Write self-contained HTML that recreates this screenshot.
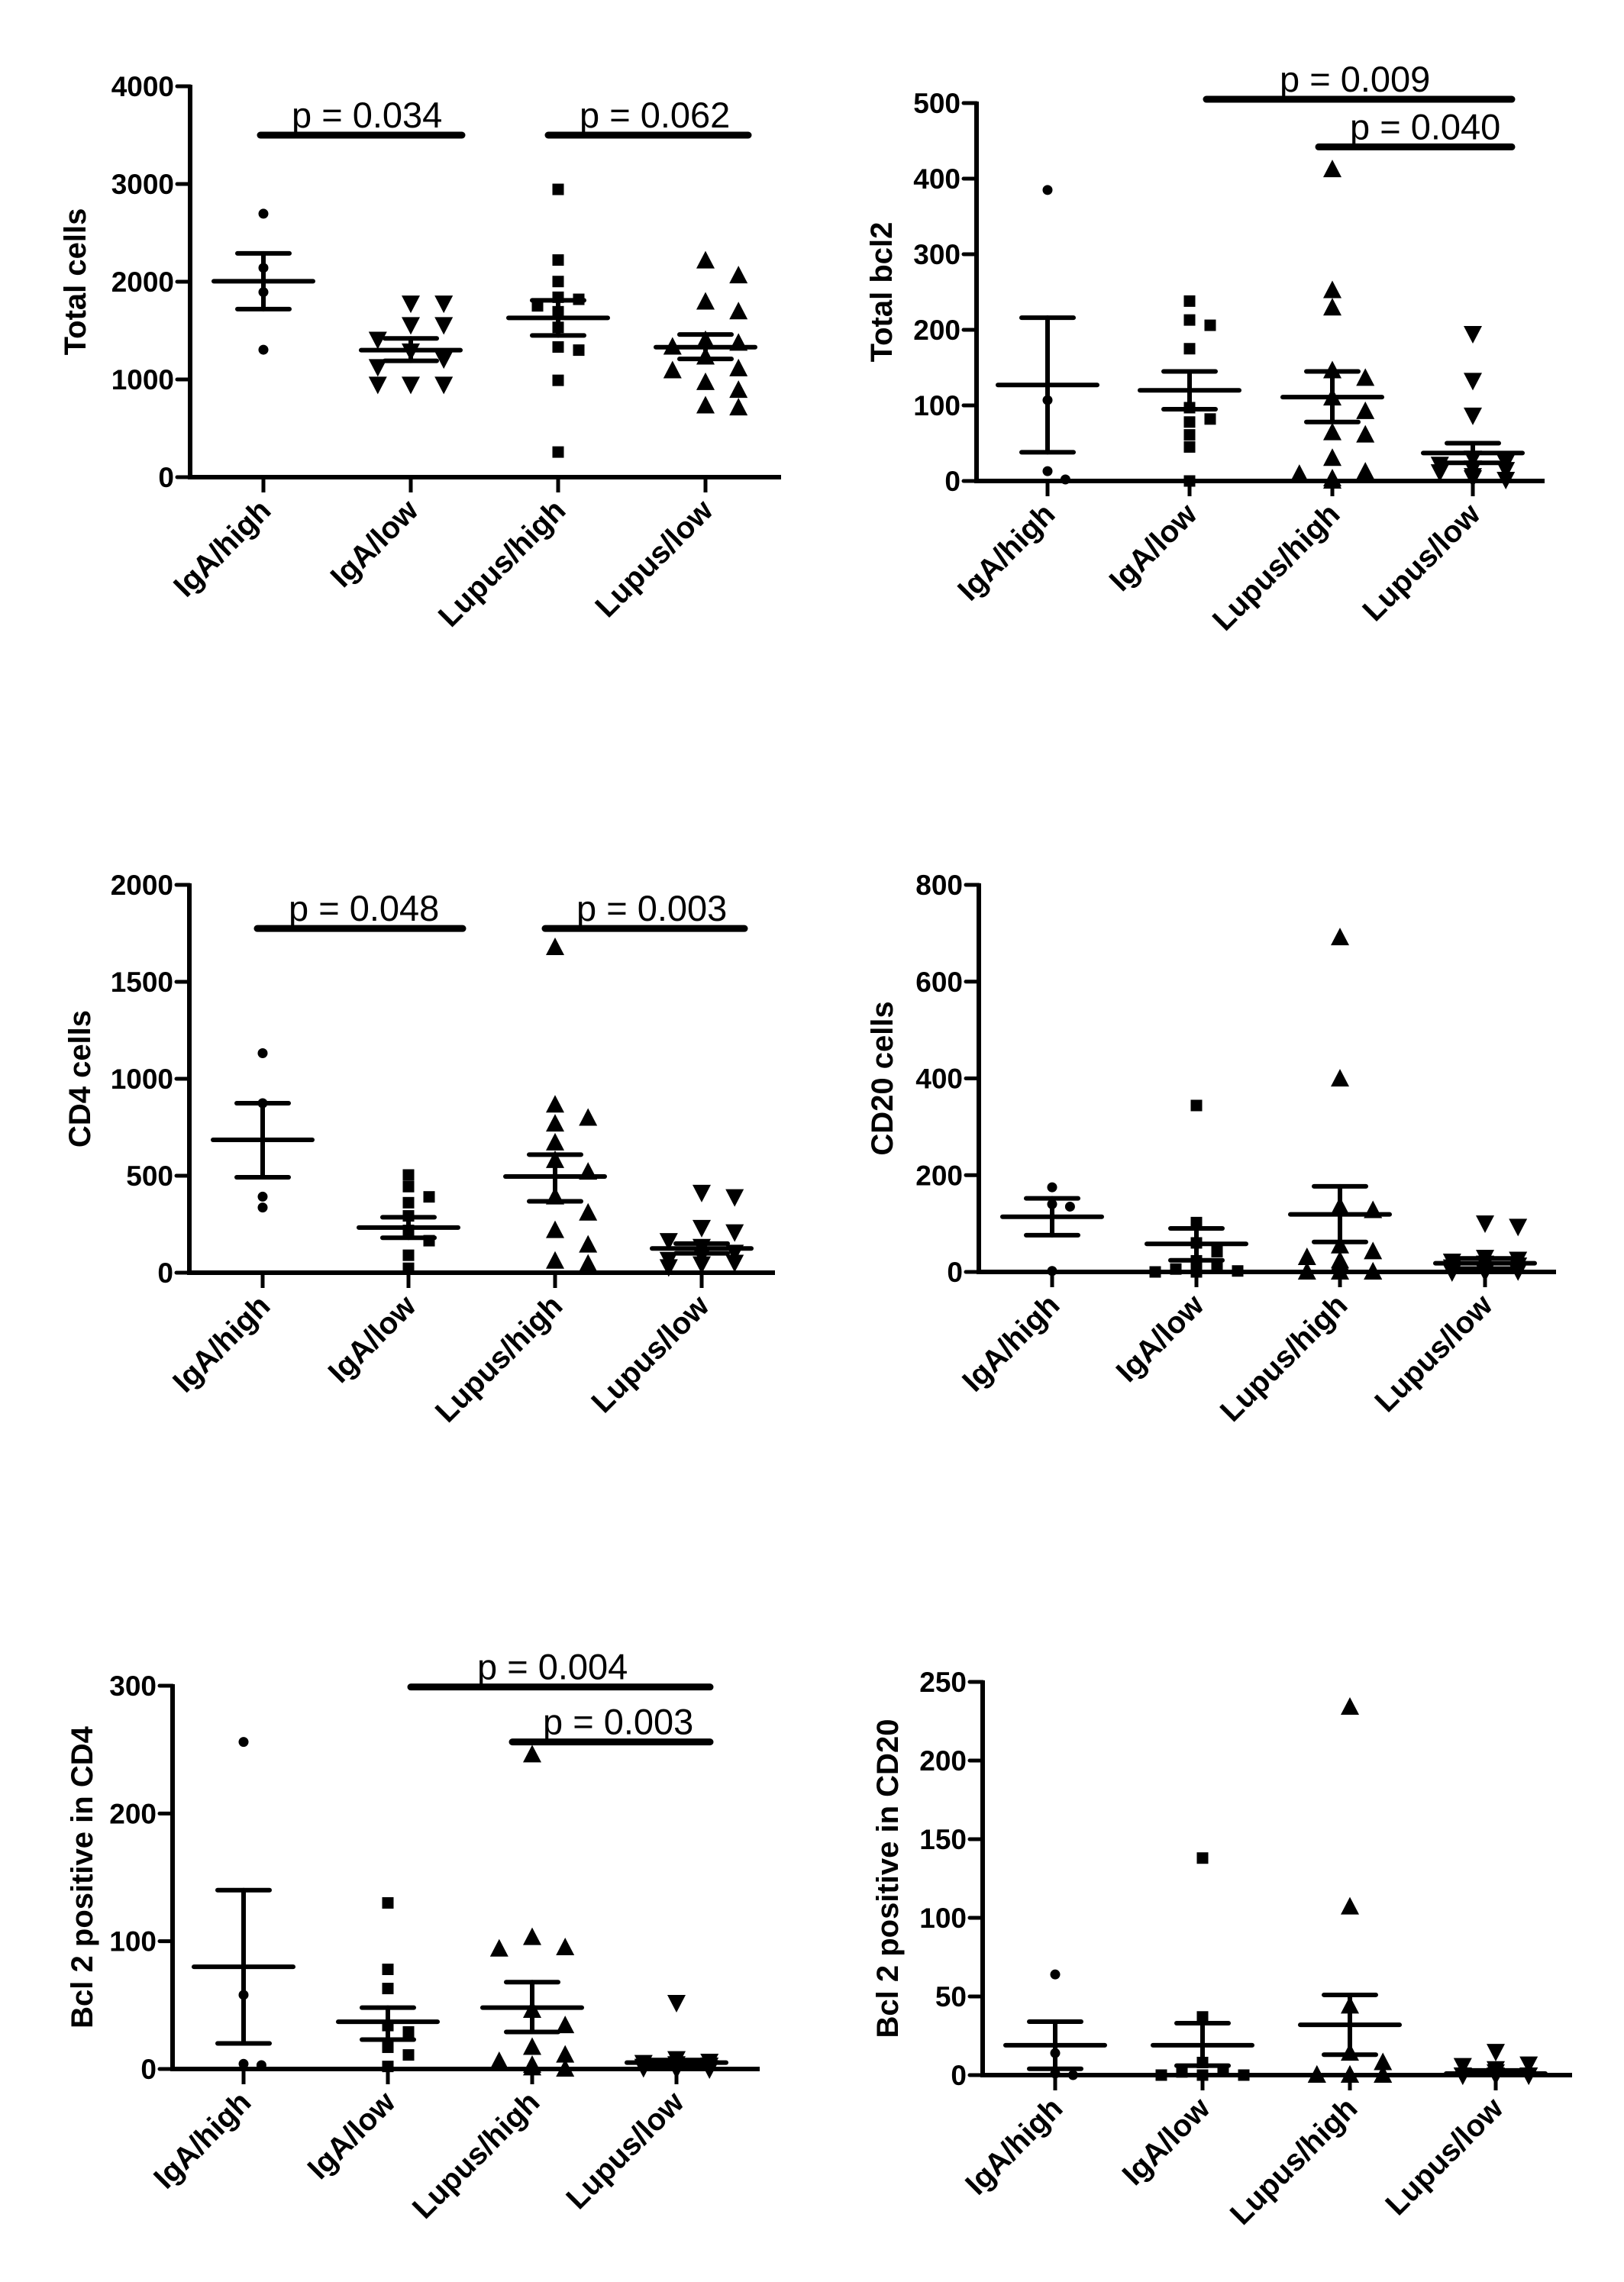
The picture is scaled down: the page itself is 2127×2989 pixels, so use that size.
<!DOCTYPE html>
<html><head><meta charset="utf-8"><style>
html,body{margin:0;padding:0;background:#fff;}
svg{display:block;}
text{font-family:"Liberation Sans",Arial,sans-serif;fill:#000;}
</style></head><body>
<svg id="fig" xmlns="http://www.w3.org/2000/svg" width="2127" height="2989" viewBox="0 0 2127 2989"></svg>
<script>
const categories = ["IgA/high","IgA/low","Lupus/high","Lupus/low"];

// Total cells
const totalCellsValues = [[2696,2142,1894,1304],[1780,1780,1560,1560,1410,1290,1210,1130,950,950,950],[2945,2222,2002,1841,1820,1753,1693,1533,1332,1300,991,257],[2214,2062,1793,1693,1400,1372,1332,1230,1110,1090,970,890,730,710]];
const totalCellsMean = [2005,1300,1630,1330];
const totalCellsSemLo = [1720,1190,1450,1210];
const totalCellsSemHi = [2290,1420,1810,1460];
const totalCellsTicks = [0,1000,2000,3000,4000];
// Total bcl2
const bcl2Values = [[385,107,13,2],[238,213,206,175,97,82,78,61,45,0],[412,252,229,146,136,110,92,64,61,30,12,9,3,0],[195,133,87,30,25,22,17,15,12,7,4,2]];
const bcl2Mean = [127,120,111,37];
const bcl2SemLo = [38,95,78,24];
const bcl2SemHi = [216,145,145,50];
const bcl2Ticks = [0,100,200,300,400,500];
// CD4 cells
const cd4Values = [[1132,874,392,336],[504,444,391,361,293,218,165,90,23],[1677,865,797,767,670,579,519,391,308,218,143,60,45],[414,391,233,210,165,135,105,90,68,53,45,30]];
const cd4Mean = [685,233,496,125];
const cd4SemLo = [492,180,368,100];
const cd4SemHi = [874,286,609,150];
const cd4Ticks = [0,500,1000,1500,2000];
// CD20 cells
const cd20Values = [[175,140,135,2],[344,102,60,42,23,10,6,2,0,0],[691,399,135,127,54,42,30,23,18,0,0,0,0],[101,94,30,26,22,18,14,10,6,2,0,0]];
const cd20Mean = [114,58,119,18];
const cd20SemLo = [76,24,62,7];
const cd20SemHi = [152,90,177,28];
const cd20Ticks = [0,200,400,600,800];
// Bcl2 positive in CD4
const bcl2cd4Values = [[256,58,4,3],[130,78,63,34,29,17,11,2],[246,103,95,94,46,34,17,11,6,3,1,0],[52,8,6,5,4,3,2,2,1,1,0,0]];
const bcl2cd4Mean = [80,37,48,5];
const bcl2cd4SemLo = [20,23,29,3];
const bcl2cd4SemHi = [140,48,68,7];
const bcl2cd4Ticks = [0,100,200,300];
// Bcl2 positive in CD20
const bcl2cd20Values = [[64,14,1,0],[138,37,8,3,2,0,0,0,0],[234,107,44,14,8,0,0,0,0,0,0,0],[15,7,6,4,2,0,0,0,0,0]];
const bcl2cd20Mean = [19,19,32,1];
const bcl2cd20SemLo = [4,6,13,0];
const bcl2cd20SemHi = [34,33,51,3];
const bcl2cd20Ticks = [0,50,100,150,200,250];

// significance annotations
const pLabelsTL = ["p = 0.034","p = 0.062"]; const pYTL = [3500,3500];
const pLabelsTR = ["p = 0.009","p = 0.040"]; const pYTR = [505,442];
const pLabelsML = ["p = 0.048","p = 0.003"]; const pYML = [1775,1775];
const pLabelsBL = ["p = 0.004","p = 0.003"]; const pYBL = [299,256];

const NS="http://www.w3.org/2000/svg";
const svg=document.getElementById('fig');
function mk(tag,attrs,parent){const e=document.createElementNS(NS,tag);for(const k in attrs)e.setAttribute(k,attrs[k]);(parent||svg).appendChild(e);return e;}

const panels=[
 {key:'total-cells',title:'Total cells',titleX:99,ax:249,cats:[345,538,731,924],xEnd:1023,y0:625,yTop:113,ticks:totalCellsTicks,vals:totalCellsValues,mean:totalCellsMean,lo:totalCellsSemLo,hi:totalCellsSemHi,markers:['dot','down','square','up'],
  pl:pLabelsTL,py:pYTL,px:[[341,605,382],[718,980,759]]},
 {key:'total-bcl2',title:'Total bcl2',titleX:1155,ax:1279,cats:[1372,1558,1745,1929],xEnd:2023,y0:630,yTop:135,ticks:bcl2Ticks,vals:bcl2Values,mean:bcl2Mean,lo:bcl2SemLo,hi:bcl2SemHi,markers:['dot','square','up','down'],
  pl:pLabelsTR,py:pYTR,px:[[1580,1980,1676],[1727,1980,1768]]},
 {key:'cd4-cells',title:'CD4 cells',titleX:105,ax:248,cats:[344,535,727,919],xEnd:1015,y0:1667,yTop:1159,ticks:cd4Ticks,vals:cd4Values,mean:cd4Mean,lo:cd4SemLo,hi:cd4SemHi,markers:['dot','square','up','down'],
  pl:pLabelsML,py:pYML,px:[[337,606,378],[714,975,755]]},
 {key:'cd20-cells',title:'CD20 cells',titleX:1156,ax:1282,cats:[1378,1567,1755,1945],xEnd:2038,y0:1666,yTop:1159,ticks:cd20Ticks,vals:cd20Values,mean:cd20Mean,lo:cd20SemLo,hi:cd20SemHi,markers:['dot','square','up','down'],pl:[],py:[],px:[]},
 {key:'bcl2-cd4',title:'Bcl 2 positive in CD4',titleX:108,ax:226,cats:[319,508,697,886],xEnd:995,y0:2710,yTop:2208,ticks:bcl2cd4Ticks,vals:bcl2cd4Values,mean:bcl2cd4Mean,lo:bcl2cd4SemLo,hi:bcl2cd4SemHi,markers:['dot','square','up','down'],
  pl:pLabelsBL,py:pYBL,px:[[538,930,625],[671,930,711]]},
 {key:'bcl2-cd20',title:'Bcl 2 positive in CD20',titleX:1163,ax:1287,cats:[1382,1575,1768,1959],xEnd:2059,y0:2718,yTop:2203,ticks:bcl2cd20Ticks,vals:bcl2cd20Values,mean:bcl2cd20Mean,lo:bcl2cd20SemLo,hi:bcl2cd20SemHi,markers:['dot','square','up','down'],pl:[],py:[],px:[]}
];

const MS={dot:{w:13,h:13},square:{w:15,h:15},up:{w:24,h:22},down:{w:24,h:22}};

function drawMarker(g,type,x,y){
  let e;
  if(type==='dot'){e=mk('circle',{cx:x,cy:y,r:6.5},g);}
  else if(type==='square'){e=mk('rect',{x:x-7.5,y:y-7.5,width:15,height:15},g);}
  else if(type==='up'){e=mk('polygon',{points:`${x},${y-13} ${x-12},${y+10} ${x+12},${y+10}`},g);}
  else {e=mk('polygon',{points:`${x},${y+13} ${x-12},${y-10} ${x+12},${y-10}`},g);}
  e.setAttribute('fill','#000');
  
  
}

panels.forEach(p=>{
  const g=mk('g',{});
  
  
  const maxV=p.ticks[p.ticks.length-1];
  const yS=v=>p.y0-(v/maxV)*(p.y0-p.yTop);
  const ya=mk('line',{x1:p.ax,y1:p.yTop-2,x2:p.ax,y2:p.y0+3,stroke:'#000','stroke-width':6},g);
  
  
  const xa=mk('line',{x1:p.ax-3,y1:p.y0,x2:p.xEnd,y2:p.y0,stroke:'#000','stroke-width':6},g);
  
  
  p.ticks.forEach(t=>{
    const y=yS(t);
    mk('line',{x1:p.ax-17,y1:y,x2:p.ax,y2:y,stroke:'#000','stroke-width':5,'stroke-linecap':'round'},g);
    const tl=mk('text',{x:p.ax-21,y:y+13,'text-anchor':'end','font-size':37,'font-weight':'bold'},g);
    tl.textContent=t;
    
    
  });
  const cy=(p.y0+p.yTop)/2;
  const yt=mk('text',{x:p.titleX,y:cy,'text-anchor':'middle','dominant-baseline':'central','font-size':40,'font-weight':'bold',transform:`rotate(-90 ${p.titleX} ${cy})`},g);
  yt.textContent=p.title;
  
  
  categories.forEach((c,i)=>{
    const x=p.cats[i];
    mk('line',{x1:x,y1:p.y0,x2:x,y2:p.y0+20,stroke:'#000','stroke-width':5},g);
    const lx=x+12, ly=p.y0+46;
    const t=mk('text',{x:lx,y:ly,'text-anchor':'end','font-size':40,'font-weight':'bold',transform:`rotate(-45 ${lx} ${ly})`},g);
    t.textContent=c;
    
    
    const type=p.markers[i], sz=MS[type];
    const placed=[];
    const vals=p.vals[i].slice().sort((a,b)=>b-a);
    const step=sz.w*0.9, maxDx=60;
    vals.forEach(v=>{
      const y=yS(v);
      const cands=[0];
      for(let k=1;k*step<=maxDx;k++){cands.push(k*step,-k*step);}
      let best=0,bestC=1e9;
      for(const c2 of cands){
        let cnt=0;
        placed.forEach(q=>{if(Math.abs(q.y-y)<sz.h&&Math.abs(q.dx-c2)<sz.w)cnt++;});
        if(cnt<bestC){bestC=cnt;best=c2;}
        if(cnt===0)break;
      }
      placed.push({y,dx:best});
      drawMarker(g,type,x+best,y);
    });
    const ym=yS(p.mean[i]), yl=yS(p.lo[i]), yh=yS(p.hi[i]);
    const eg=mk('g',{stroke:'#000','stroke-width':6,'stroke-linecap':'round'},g);
    
    
    mk('line',{x1:x,y1:yl,x2:x,y2:yh},eg);
    mk('line',{x1:x-34,y1:yl,x2:x+34,y2:yl},eg);
    mk('line',{x1:x-34,y1:yh,x2:x+34,y2:yh},eg);
    mk('line',{x1:x-65,y1:ym,x2:x+65,y2:ym},eg);
  });
  p.pl.forEach((lab,j)=>{
    const y=yS(p.py[j]);
    const b=mk('line',{x1:p.px[j][0],y1:y,x2:p.px[j][1],y2:y,stroke:'#000','stroke-width':9,'stroke-linecap':'round'},g);
    
    
    const t=mk('text',{x:p.px[j][2],y:y-10,'font-size':47},g);
    t.textContent=lab;
    
    
  });
});
</script>
</body></html>
